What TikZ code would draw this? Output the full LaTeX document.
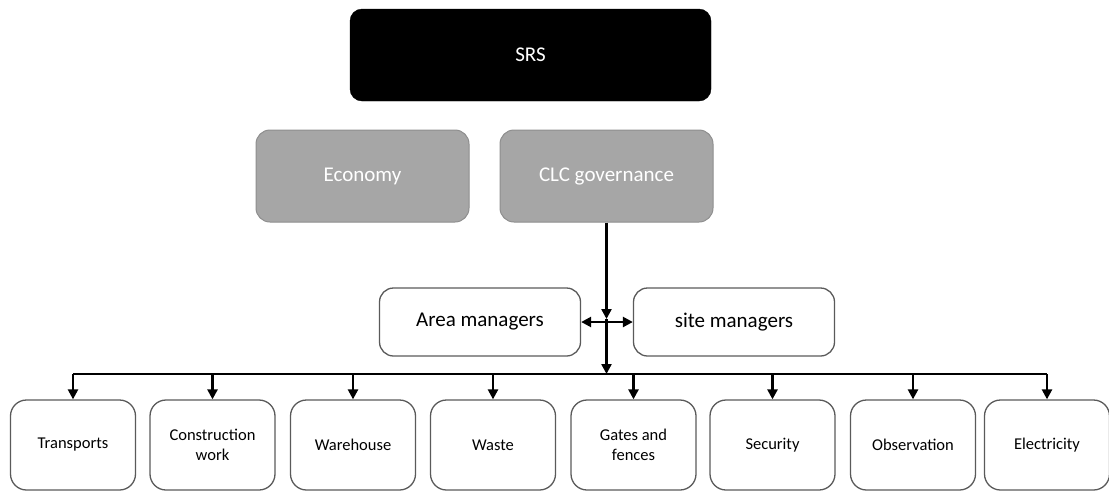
\documentclass[tikz,border=0pt]{standalone}
\usepackage{fontspec}
\setmainfont{Carlito}
\usetikzlibrary{arrows.meta}

\definecolor{boxgray}{HTML}{A6A6A6}
\definecolor{edgegray}{HTML}{8E8E8E}
\definecolor{linegray}{HTML}{5A5A5A}

\tikzset{
  topbox/.style={draw=black, fill=black, text=white, rounded corners=12pt,
    minimum width=361pt, minimum height=92pt, font=\fontsize{21}{25}\selectfont},
  graybox/.style={draw=edgegray, fill=boxgray, text=white, rounded corners=14pt,
    line width=1pt, minimum width=213pt, minimum height=92pt, font=\fontsize{21}{25}\selectfont},
  mgrbox/.style={draw=linegray, rounded corners=14pt, line width=1.3pt,
    minimum width=201pt, minimum height=68pt, font=\fontsize{21}{25}\selectfont},
  taskbox/.style={draw=linegray, rounded corners=16pt, line width=1.3pt, align=center,
    minimum width=125pt, minimum height=90pt, font=\fontsize{16.5}{19.5}\selectfont},
  conn/.style={line width=2.4pt},
  arr/.style={conn, -{Triangle[length=10pt,width=10pt]}},
  dblarr/.style={conn, {Triangle[length=10pt,width=10pt]}-{Triangle[length=10pt,width=10pt]}}
}

\begin{document}
\begin{tikzpicture}[x=1pt,y=-1pt]
  \useasboundingbox (0,0) rectangle (1109,491);

  % Draw the top levels
  \node[topbox] (srs) at (530.5,55) {SRS};
  \node[graybox] (economy) at (362.5,176) {Economy};
  \node[graybox] (clc) at (606.5,176) {CLC governance};

  % Managers
  \node[mgrbox] (area) at (480,322) {Area managers};
  \node[mgrbox] (site) at (734,322) {site managers};

  % Define the hub points
  \coordinate (hub) at (606.5,319);
  \coordinate (busmid) at (606.5,374);

  \draw[arr] (clc.south) -- (hub);
  \draw[arr] (hub) -- (busmid);
  \draw[dblarr] (area.east) -- (site.west);

  % Task boxes along the bus
  \foreach \x/\name/\txt in {73/trans/Transports, 212.5/constr/{Construction\\work},
      353/wareh/Warehouse, 493/waste/Waste, 633.5/gates/{Gates and\\fences},
      772.5/secur/Security, 913/obser/Observation, 1047/elec/Electricity} {
    \node[taskbox] (\name) at (\x,445) {\txt};
    \coordinate (\name-top) at (\x,374);
    \draw[arr] (\name-top) -- (\name.north);
  }

  \draw[conn] (trans-top) -- (elec-top);
\end{tikzpicture}
\end{document}
